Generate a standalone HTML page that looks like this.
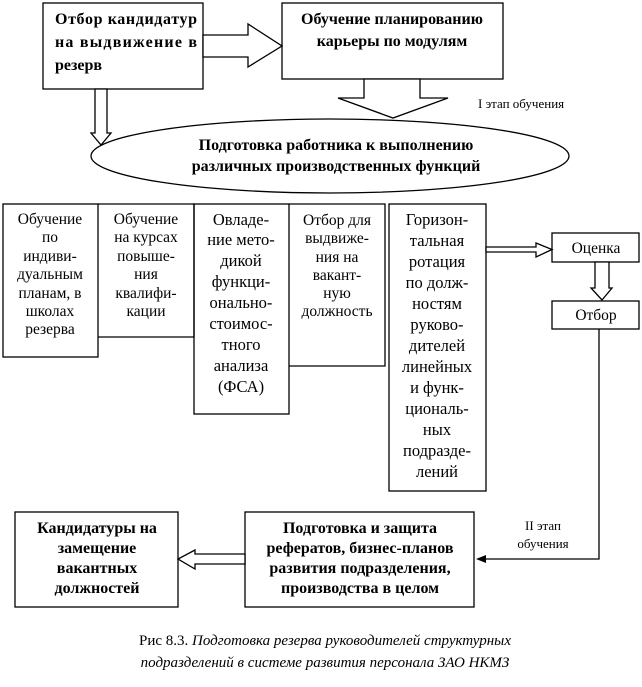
<!DOCTYPE html>
<html><head><meta charset="utf-8"><style>
html,body{margin:0;padding:0;background:#fff;}
svg{display:block;}
text{font-family:"Liberation Serif","DejaVu Serif",serif;fill:#000;}
.b{font-weight:bold;font-size:16px;}
.c{font-size:15.5px;}
</style></head><body>
<svg width="642" height="687" viewBox="0 0 642 687" xmlns="http://www.w3.org/2000/svg">
<g fill="none" stroke="#000" stroke-width="1.3">
<rect x="43" y="3" width="160" height="86"/>
<rect x="282" y="3" width="221" height="76"/>
<polygon points="203,35 248,35 248,24 282,46 248,67 248,57 203,57" fill="#fff"/>
<polygon points="364,79 420,79 420,98 448,98 393,118 338,98 364,98" fill="#fff"/>
<polygon points="95,89 107,89 107,133 111,133 101,145 91,133 95,133" fill="#fff"/>
<ellipse cx="330" cy="156" rx="239" ry="37" fill="#fff"/>
<rect x="3" y="204" width="95" height="153"/>
<polyline points="98,204 194,204 194,337 98,337"/>
<rect x="194" y="204" width="95" height="210"/>
<polyline points="289,204 385,204 385,366 289,366"/>
<rect x="389" y="204" width="97" height="287"/>
<rect x="552" y="233" width="87" height="29"/>
<rect x="552" y="301" width="87" height="28"/>
<polygon points="486,247 536,247 536,243 552,249.5 536,257 536,252 486,252" fill="#fff"/>
<polygon points="595,262 609,262 609,288 612,288 602,300 591,288 595,288" fill="#fff"/>
<polyline points="599,329 599,559 482,559"/>
<rect x="15" y="512" width="163" height="95"/>
<rect x="245" y="512" width="229" height="95"/>
<polygon points="245,554 195,554 195,550 178,559 195,569 195,564 245,564" fill="#fff"/>
</g>
<polygon points="476,559 486,555 486,563" fill="#000"/>
<text class="b" x="55" y="24" textLength="142" lengthAdjust="spacing">Отбор  кандидатур</text>
<text class="b" x="55" y="47" textLength="142" lengthAdjust="spacing">на  выдвижение  в</text>
<text class="b" x="55" y="70">резерв</text>
<text class="b" x="392" y="24" text-anchor="middle">Обучение планированию</text>
<text class="b" x="392" y="46" text-anchor="middle">карьеры по модулям</text>
<text x="478" y="108" font-size="13">I этап обучения</text>
<text class="b" x="336" y="150" text-anchor="middle" font-size="17">Подготовка работника к выполнению</text>
<text class="b" x="336" y="171" text-anchor="middle" font-size="17">различных производственных функций</text>
<g class="c" text-anchor="middle">
<text x="50" y="224">Обучение</text><text x="50" y="242">по</text><text x="50" y="261">индиви-</text><text x="50" y="279">дуальным</text><text x="50" y="298">планам, в</text><text x="50" y="316">школах</text><text x="50" y="334">резерва</text>
<text x="146" y="224">Обучение</text><text x="146" y="242">на курсах</text><text x="146" y="261">повыше-</text><text x="146" y="279">ния</text><text x="146" y="298">квалифи-</text><text x="146" y="316">кации</text>
</g>
<g font-size="16.5" text-anchor="middle">
<text x="241" y="225">Овладе-</text><text x="241" y="245">ние мето-</text><text x="241" y="266">дикой</text><text x="241" y="287">функци-</text><text x="241" y="308">онально-</text><text x="241" y="329">стоимос-</text><text x="241" y="350">тного</text><text x="241" y="371">анализа</text><text x="241" y="392">(ФСА)</text>
<text x="437" y="225">Горизон-</text><text x="437" y="246">тальная</text><text x="437" y="267">ротация</text><text x="437" y="288">по долж-</text><text x="437" y="309">ностям</text><text x="437" y="330">руково-</text><text x="437" y="351">дителей</text><text x="437" y="372">линейных</text><text x="437" y="393">и функ-</text><text x="437" y="414">циональ-</text><text x="437" y="435">ных</text><text x="437" y="456">подразде-</text><text x="437" y="477">лений</text>
</g>
<g class="c" text-anchor="middle">
<text x="337" y="225">Отбор для</text><text x="337" y="243">выдвиже-</text><text x="337" y="262">ния на</text><text x="337" y="280">вакант-</text><text x="337" y="298">ную</text><text x="337" y="316">должность</text>
<text x="596" y="253">Оценка</text>
<text x="596" y="320">Отбор</text>
</g>
<g font-size="13" text-anchor="middle">
<text x="543" y="530">II этап</text><text x="543" y="548">обучения</text>
</g>
<g class="b" text-anchor="middle">
<text x="97" y="533">Кандидатуры на</text><text x="97" y="553">замещение</text><text x="97" y="573">вакантных</text><text x="97" y="593">должностей</text>
<text x="360" y="533">Подготовка и защита</text><text x="360" y="553">рефератов, бизнес-планов</text><text x="360" y="573">развития подразделения,</text><text x="360" y="593">производства в целом</text>
</g>
<text x="325" y="645" font-size="15" text-anchor="middle">Рис 8.3. <tspan font-style="italic">Подготовка резерва руководителей структурных</tspan></text>
<text x="325" y="667" font-size="15" font-style="italic" text-anchor="middle">подразделений в системе развития персонала ЗАО НКМЗ</text>
</svg>
</body></html>
